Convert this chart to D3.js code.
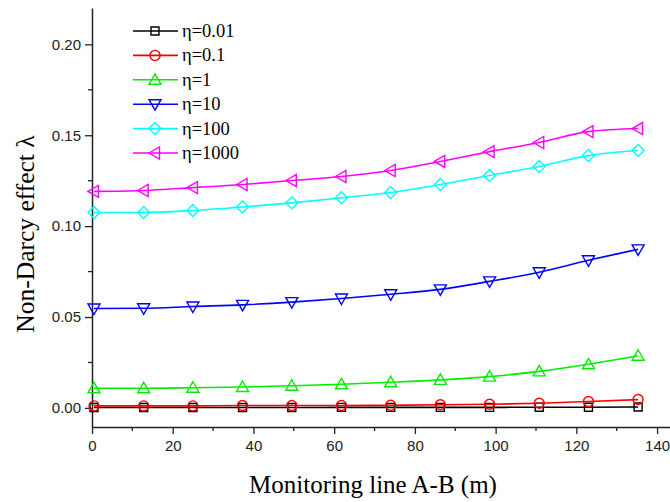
<!DOCTYPE html>
<html>
<head>
<meta charset="utf-8">
<script src="https://cdn.jsdelivr.net/npm/d3@7"></script>
<style>
  body { margin: 0; background: #fff; }
  svg { display: block; }
  .tick text { font-family: "Liberation Sans", Arial, sans-serif; font-size: 15px; fill: #222; }
</style>
</head>
<body>
<svg id="chart" width="670" height="502"></svg>
<script>
// monitoring points along line A-B (m)
var distance = [0.5, 12.8, 25.0, 37.3, 49.5, 61.8, 74.0, 86.3, 98.5, 110.8, 123.0, 135.3];

var eta_001  = [0.0002, 0.0002, 0.0002, 0.0002, 0.0002, 0.0003, 0.0003, 0.0003, 0.0003, 0.0004, 0.0004, 0.0005];
var eta_01   = [0.0011, 0.0011, 0.0011, 0.0013, 0.0013, 0.0013, 0.0015, 0.0017, 0.0020, 0.0026, 0.0035, 0.0046];
var eta_1    = [0.0108, 0.0108, 0.0111, 0.0115, 0.0122, 0.0130, 0.0141, 0.0154, 0.0172, 0.0201, 0.0240, 0.0287];
var eta_10   = [0.0547, 0.0548, 0.0558, 0.0567, 0.0582, 0.0602, 0.0625, 0.0652, 0.0696, 0.0746, 0.0812, 0.0872];
var eta_100  = [0.1075, 0.1075, 0.1086, 0.1105, 0.1128, 0.1156, 0.1185, 0.1229, 0.1279, 0.1328, 0.1388, 0.1416];
var eta_1000 = [0.1191, 0.1196, 0.1212, 0.1229, 0.1251, 0.1273, 0.1306, 0.1356, 0.1410, 0.1460, 0.1520, 0.1537];

var legend_labels = ["\u03b7=0.01", "\u03b7=0.1", "\u03b7=1", "\u03b7=10", "\u03b7=100", "\u03b7=1000"];
var colors = ["#000000", "#ff0000", "#00ee00", "#0000ff", "#00ffff", "#ff00ff"];
var shapes = ["square", "circle", "up", "down", "diamond", "left"];

var x_ticks = [0, 20, 40, 60, 80, 100, 120, 140];
var y_ticks = [0.00, 0.05, 0.10, 0.15, 0.20];

var series = [eta_001, eta_01, eta_1, eta_10, eta_100, eta_1000];

var svg = d3.select("#chart");

var x = d3.scaleLinear().domain([0, 143.2]).range([92, 670]);
var y = d3.scaleLinear().domain([-0.0105, 0.22]).range([427, 8]);

// open marker shapes, drawn around (0,0)
function marker(shape) {
  var p = d3.path();
  if (shape == "square") {
    p.rect(-4, -4, 8, 8);
  } else if (shape == "circle") {
    p.arc(0, 0, 5, 0, 2 * Math.PI);
  } else if (shape == "up") {
    p.moveTo(0, -6); p.lineTo(6, 4.5); p.lineTo(-6, 4.5); p.closePath();
  } else if (shape == "down") {
    p.moveTo(0, 6); p.lineTo(6, -4.5); p.lineTo(-6, -4.5); p.closePath();
  } else if (shape == "diamond") {
    p.moveTo(0, -6); p.lineTo(6, 0); p.lineTo(0, 6); p.lineTo(-6, 0); p.closePath();
  } else if (shape == "left") {
    p.moveTo(-6, 0); p.lineTo(4.5, -6); p.lineTo(4.5, 6); p.closePath();
  }
  return p.toString();
}

// axes
var xAxis = svg.append("g")
    .attr("transform", "translate(0," + y.range()[0] + ")")
    .call(d3.axisBottom(x).tickValues(x_ticks).tickSize(7).tickSizeOuter(0).tickFormat(d3.format("d")));
xAxis.select(".domain").attr("stroke", "#222").attr("stroke-width", 1.5);
xAxis.selectAll(".tick line").attr("stroke", "#222").attr("stroke-width", 1.3);
xAxis.selectAll(".tick text").attr("dy", "0.95em");
xAxis.append("g").selectAll("line")
    .data(x_ticks.slice(0, -1).map(function(d) { return d + 10; }))
  .enter().append("line")
    .attr("x1", function(d) { return x(d); })
    .attr("x2", function(d) { return x(d); })
    .attr("y1", 0).attr("y2", 4)
    .attr("stroke", "#222").attr("stroke-width", 1.3);

var yAxis = svg.append("g")
    .attr("transform", "translate(" + x.range()[0] + ",0)")
    .call(d3.axisLeft(y).tickValues(y_ticks).tickSize(7).tickSizeOuter(0).tickFormat(d3.format(".2f")));
yAxis.select(".domain").attr("stroke", "#222").attr("stroke-width", 1.5);
yAxis.selectAll(".tick line").attr("stroke", "#222").attr("stroke-width", 1.3);
yAxis.selectAll(".tick text").attr("x", -11);
yAxis.append("g").selectAll("line")
    .data([-0.025, 0.025, 0.075, 0.125, 0.175, 0.225].filter(function(d) { return d > -0.0105 && d < 0.22; }))
  .enter().append("line")
    .attr("x1", -4).attr("x2", 0)
    .attr("y1", function(d) { return y(d); })
    .attr("y2", function(d) { return y(d); })
    .attr("stroke", "#222").attr("stroke-width", 1.3);

// axis titles
svg.append("text")
    .attr("x", 373).attr("y", 493)
    .attr("text-anchor", "middle")
    .style("font-family", "'Liberation Serif', 'Times New Roman', serif")
    .style("font-size", "25px")
    .text("Monitoring line A-B (m)");

svg.append("text")
    .attr("transform", "translate(34,234) rotate(-90)")
    .attr("text-anchor", "middle")
    .style("font-family", "'Liberation Serif', 'Times New Roman', serif")
    .style("font-size", "25.5px")
    .text("Non-Darcy effect \u03bb");

// curves
var line = d3.line()
    .x(function(d, i) { return x(distance[i]); })
    .y(function(d) { return y(d); })
    .curve(d3.curveMonotoneX);

series.forEach(function(values, k) {
  svg.append("path")
      .datum(values)
      .attr("d", line)
      .attr("fill", "none")
      .attr("stroke", colors[k])
      .attr("stroke-width", 1.6);

  svg.append("g").selectAll("path")
      .data(values)
    .enter().append("path")
      .attr("transform", function(d, i) { return "translate(" + x(distance[i]) + "," + y(d) + ")"; })
      .attr("d", marker(shapes[k]))
      .attr("fill", "none")
      .attr("stroke", colors[k])
      .attr("stroke-width", 1.4);
});

// legend
var legend = svg.append("g").attr("transform", "translate(133,31)");
legend_labels.forEach(function(label, k) {
  var row = legend.append("g").attr("transform", "translate(0," + (k * 24.4) + ")");
  row.append("line")
      .attr("x1", 0).attr("x2", 45)
      .attr("stroke", colors[k]).attr("stroke-width", 1.6);
  row.append("path")
      .attr("transform", "translate(22,0)")
      .attr("d", marker(shapes[k]))
      .attr("fill", "none")
      .attr("stroke", colors[k]).attr("stroke-width", 1.4);
  row.append("text")
      .attr("x", 49).attr("y", 6)
      .style("font-family", "'Liberation Serif', 'Times New Roman', serif")
      .style("font-size", "18.5px")
      .text(label);
});
</script>
</body>
</html>
